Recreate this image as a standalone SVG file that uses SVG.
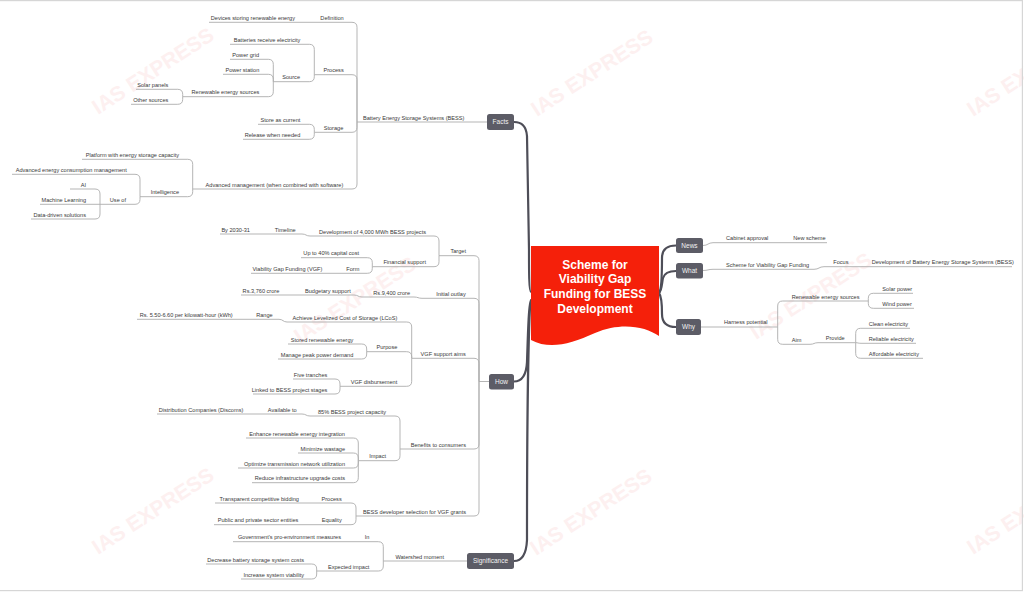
<svg xmlns="http://www.w3.org/2000/svg" width="1024" height="592" viewBox="0 0 1024 592">
<style>
.wm{font-family:"Liberation Sans",Arial,sans-serif;font-weight:bold;font-size:21px;fill:#fdf0f0}
.t{font-family:"Liberation Sans",Arial,sans-serif;font-size:5.6px;fill:#383838}
.l{text-anchor:end}
.ln{fill:none;stroke:#adadad;stroke-width:0.9}
.sp{fill:none;stroke:#4e4e58;stroke-width:2.2;stroke-linecap:round}
.mn rect{fill:#5c5c66}
.mn text{font-family:"Liberation Sans",Arial,sans-serif;font-size:6.5px;fill:#f2f2f2;text-anchor:middle}
.ct{font-family:"Liberation Sans",Arial,sans-serif;font-weight:bold;font-size:12px;fill:#ffffff;text-anchor:middle}
</style>
<rect x="0" y="0" width="1024" height="592" fill="#ffffff"/>
<g id="watermarks">
<text class="wm" transform="translate(98,115) rotate(-33)">IAS EXPRESS</text>
<text class="wm" transform="translate(537,117) rotate(-33)">IAS EXPRESS</text>
<text class="wm" transform="translate(973,117) rotate(-33)">IAS EXPRESS</text>
<text class="wm" transform="translate(300,344) rotate(-33)">IAS EXPRESS</text>
<text class="wm" transform="translate(756,340) rotate(-33)">IAS EXPRESS</text>
<text class="wm" transform="translate(98,555) rotate(-33)">IAS EXPRESS</text>
<text class="wm" transform="translate(536,556) rotate(-33)">IAS EXPRESS</text>
<text class="wm" transform="translate(973,555) rotate(-33)">IAS EXPRESS</text>
</g>
<rect x="-1" y="0.6" width="1023.4" height="590" fill="none" stroke="#d6d6d6" stroke-width="1.2"/>
<g id="connectors">
<path class="sp" d="M531,292 C529,292 529,270 529,250 L527,136 Q526,122 514,122"/>
<path class="sp" d="M531,300 C529,300 528,330 527,362 Q526,381.5 514,381.5"/>
<path class="sp" d="M531,300 C529,300 527,400 527,540 Q526,561 514,561"/>
<path class="sp" stroke-width="1.8" d="M659,293 C662,290 662,270 662,258 Q662,245.5 676,245.5"/>
<path class="sp" stroke-width="1.8" d="M659,293 C662,290 662,282 663,278 Q665,271 676,271"/>
<path class="sp" stroke-width="1.8" d="M659,293 C662,297 662,305 662,314 Q662,327 676,327"/>
<path class="ln" d="M487,122 H357"/>
<path class="ln" d="M357,122 V27.3 Q357,22.3 352,22.3 H300"/>
<path class="ln" d="M357,122 V79.7 Q357,74.7 352,74.7 H314.3"/>
<path class="ln" d="M357,122 V127.3 Q357,132.3 352,132.3 H314.3"/>
<path class="ln" d="M357,122 V184 Q357,189 352,189 H192.7"/>
<path class="ln" d="M300,22.3 H209"/>
<path class="ln" d="M314.3,74.7 V49.3 Q314.3,44.3 309.3,44.3 H230"/>
<path class="ln" d="M314.3,74.7 V76.7 Q314.3,81.7 309.3,81.7 H273.3"/>
<path class="ln" d="M273.3,81.7 V64.3 Q273.3,59.3 268.3,59.3 H230"/>
<path class="ln" d="M273.3,81.7 V79.3 Q273.3,74.3 268.3,74.3 H223"/>
<path class="ln" d="M273.3,81.7 V91.7 Q273.3,96.7 268.3,96.7 H182.7"/>
<path class="ln" d="M182.7,96.7 V94.3 Q182.7,89.3 177.7,89.3 H136"/>
<path class="ln" d="M182.7,96.7 V99.3 Q182.7,104.3 177.7,104.3 H131"/>
<path class="ln" d="M314.3,132.3 V129.3 Q314.3,124.3 309.3,124.3 H258"/>
<path class="ln" d="M314.3,132.3 V134.3 Q314.3,139.3 309.3,139.3 H243"/>
<path class="ln" d="M192.7,189 V164.3 Q192.7,159.3 187.7,159.3 H82"/>
<path class="ln" d="M192.7,189 V191.7 Q192.7,196.7 187.7,196.7 H140"/>
<path class="ln" d="M140,196.7 V179.3 Q140,174.3 135,174.3 H12"/>
<path class="ln" d="M140,196.7 V199.3 Q140,204.3 135,204.3 H100"/>
<path class="ln" d="M100,204.3 V194 Q100,189 95,189 H70"/>
<path class="ln" d="M100,204.3 H40"/>
<path class="ln" d="M100,204.3 V214 Q100,219 95,219 H31"/>
<path class="ln" d="M489,381.5 H479"/>
<path class="ln" d="M479,381.5 V260.7 Q479,255.7 474,255.7 H439"/>
<path class="ln" d="M479,381.5 V303.3 Q479,298.3 474,298.3 H422"/>
<path class="ln" d="M479,381.5 V363.3 Q479,358.3 474,358.3 H411.7"/>
<path class="ln" d="M479,381.5 V444 Q479,449 474,449 H400"/>
<path class="ln" d="M479,381.5 V511 Q479,516 474,516 H356"/>
<path class="ln" d="M439,255.7 V241 Q439,236 434,236 H310"/>
<path class="ln" d="M439,255.7 V261.7 Q439,266.7 434,266.7 H372.3"/>
<path class="ln" d="M310,236 C306,236 306,234 302,234 H262"/>
<path class="ln" d="M262,234 H220"/>
<path class="ln" d="M372.3,266.7 V262.7 Q372.3,257.7 367.3,257.7 H301"/>
<path class="ln" d="M372.3,266.7 V268.3 Q372.3,273.3 367.3,273.3 H334"/>
<path class="ln" d="M334,273.3 H251"/>
<path class="ln" d="M422,298.3 C418,298.3 418,297 414,297 H362"/>
<path class="ln" d="M362,297 C358,297 358,295 354,295 H292"/>
<path class="ln" d="M292,295 H241"/>
<path class="ln" d="M411.7,358.3 V327 Q411.7,322 406.7,322 H287"/>
<path class="ln" d="M411.7,358.3 V356.7 Q411.7,351.7 406.7,351.7 H366.7"/>
<path class="ln" d="M411.7,358.3 V381.3 Q411.7,386.3 406.7,386.3 H340"/>
<path class="ln" d="M287,322 C283,322 283,319.3 279,319.3 H245"/>
<path class="ln" d="M245,319.3 H137"/>
<path class="ln" d="M366.7,351.7 V349 Q366.7,344 361.7,344 H288"/>
<path class="ln" d="M366.7,351.7 V354 Q366.7,359 361.7,359 H278"/>
<path class="ln" d="M340,386.3 V384 Q340,379 335,379 H293"/>
<path class="ln" d="M340,386.3 V389 Q340,394 335,394 H253"/>
<path class="ln" d="M400,449 V421 Q400,416 395,416 H310"/>
<path class="ln" d="M400,449 V455.7 Q400,460.7 395,460.7 H358.3"/>
<path class="ln" d="M310,416 C306,416 306,414 302,414 H255"/>
<path class="ln" d="M255,414 H157"/>
<path class="ln" d="M358.3,460.7 V443 Q358.3,438 353.3,438 H246"/>
<path class="ln" d="M358.3,460.7 V458 Q358.3,453 353.3,453 H298"/>
<path class="ln" d="M358.3,460.7 V463 Q358.3,468 353.3,468 H238"/>
<path class="ln" d="M358.3,460.7 V477.7 Q358.3,482.7 353.3,482.7 H252"/>
<path class="ln" d="M356,516 V508 Q356,503 351,503 H311"/>
<path class="ln" d="M356,516 V519.7 Q356,524.7 351,524.7 H311"/>
<path class="ln" d="M311,503 H215"/>
<path class="ln" d="M311,524.7 H214"/>
<path class="ln" d="M467,561 H383.3"/>
<path class="ln" d="M383.3,561 V546.7 Q383.3,541.7 378.3,541.7 H355"/>
<path class="ln" d="M383.3,561 V566 Q383.3,571 378.3,571 H316.7"/>
<path class="ln" d="M355,541.7 H233"/>
<path class="ln" d="M316.7,571 V569 Q316.7,564 311.7,564 H206"/>
<path class="ln" d="M316.7,571 V574 Q316.7,579 311.7,579 H241"/>
<path class="ln" d="M703,245.5 C708,245.5 708,242.7 713,242.7 H780"/>
<path class="ln" d="M780,242.7 H827"/>
<path class="ln" d="M703,270.5 C708,270.5 708,269.3 713,269.3 H814"/>
<path class="ln" d="M814,269.3 C819,269.3 819,266.7 824,266.7 H855"/>
<path class="ln" d="M855,266.7 H1012"/>
<path class="ln" d="M701,327 H777.7"/>
<path class="ln" d="M777.7,327 V306 Q777.7,301 782.7,301 H868.3"/>
<path class="ln" d="M777.7,327 V339.3 Q777.7,344.3 782.7,344.3 H810"/>
<path class="ln" d="M868.3,301 V298.3 Q868.3,293.3 873.3,293.3 H913"/>
<path class="ln" d="M868.3,301 V303.3 Q868.3,308.3 873.3,308.3 H914"/>
<path class="ln" d="M810,344.3 C814,344.3 814,342.7 818,342.7 H855.7"/>
<path class="ln" d="M855.7,342.7 V333.3 Q855.7,328.3 860.7,328.3 H910"/>
<path class="ln" d="M855.7,342.7 C858,342.7 858,343.3 861,343.3 H916"/>
<path class="ln" d="M855.7,342.7 V353.3 Q855.7,358.3 860.7,358.3 H923"/>
</g>
<g id="center">
<path d="M531,246 H659 V336 C645,326 620,322 595,333 C570,344 550,350 531,340 Z" fill="#f5200a"/>
<text class="ct" x="595" y="268.5">Scheme for</text>
<text class="ct" x="595" y="283">Viability Gap</text>
<text class="ct" x="595" y="298">Funding for BESS</text>
<text class="ct" x="595" y="312.5">Development</text>
</g>
<g id="facts" class="mn"><rect x="487" y="114" width="27" height="16" rx="2.5"/><text x="500.5" y="124.3">Facts</text></g>
<g id="how" class="mn"><rect x="489" y="374" width="25" height="15.5" rx="2.5"/><text x="501.5" y="384">How</text></g>
<g id="significance" class="mn"><rect x="467" y="553" width="47" height="16" rx="2.5"/><text x="490.5" y="563.3">Significance</text></g>
<g id="news" class="mn"><rect x="676" y="238" width="27" height="15" rx="2.5"/><text x="689.5" y="247.8">News</text></g>
<g id="what" class="mn"><rect x="676" y="263" width="27" height="15.5" rx="2.5"/><text x="689.5" y="273">What</text></g>
<g id="why" class="mn"><rect x="676" y="319" width="25" height="16" rx="2.5"/><text x="688.5" y="329.3">Why</text></g>
<g id="facts-tree">
<g id="n-bess"><text class="t l" x="464.3" y="119.5">Battery Energy Storage Systems (BESS)</text></g>
<g id="n-definition"><text class="t l" x="343.7" y="20">Definition</text></g>
<g id="n-devices"><text class="t l" x="295" y="20">Devices storing renewable energy</text></g>
<g id="n-process"><text class="t l" x="343.7" y="72.4">Process</text></g>
<g id="n-batteries"><text class="t l" x="300.3" y="42">Batteries receive electricity</text></g>
<g id="n-source"><text class="t l" x="300" y="79.4">Source</text></g>
<g id="n-powergrid"><text class="t l" x="259" y="57">Power grid</text></g>
<g id="n-powerstation"><text class="t l" x="259.3" y="72">Power station</text></g>
<g id="n-res"><text class="t l" x="259.3" y="94.4">Renewable energy sources</text></g>
<g id="n-solar"><text class="t l" x="168.3" y="87">Solar panels</text></g>
<g id="n-other"><text class="t l" x="168.3" y="102">Other sources</text></g>
<g id="n-storage"><text class="t l" x="343.3" y="130">Storage</text></g>
<g id="n-store"><text class="t l" x="300.3" y="122">Store as current</text></g>
<g id="n-release"><text class="t l" x="300.3" y="137">Release when needed</text></g>
<g id="n-advmgmt"><text class="t l" x="343.3" y="186.7">Advanced management (when combined with software)</text></g>
<g id="n-platform"><text class="t l" x="179" y="157">Platform with energy storage capacity</text></g>
<g id="n-intelligence"><text class="t l" x="179" y="194.4">Intelligence</text></g>
<g id="n-advcons"><text class="t l" x="126.7" y="172">Advanced energy consumption management</text></g>
<g id="n-useof"><text class="t l" x="126" y="202">Use of</text></g>
<g id="n-ai"><text class="t l" x="86" y="186.7">AI</text></g>
<g id="n-ml"><text class="t l" x="86" y="202">Machine Learning</text></g>
<g id="n-data"><text class="t l" x="86" y="216.7">Data-driven solutions</text></g>
</g>
<g id="how-tree">
<g id="n-target"><text class="t l" x="466" y="253.4">Target</text></g>
<g id="n-development"><text class="t l" x="426" y="233.7">Development of 4,000 MWh BESS projects</text></g>
<g id="n-timeline"><text class="t l" x="295.7" y="231.7">Timeline</text></g>
<g id="n-by2030"><text class="t l" x="250" y="231.7">By 2030-31</text></g>
<g id="n-financial"><text class="t l" x="426" y="264.4">Financial support</text></g>
<g id="n-upto40"><text class="t l" x="359" y="255.4">Up to 40% capital cost</text></g>
<g id="n-form"><text class="t l" x="359.3" y="271">Form</text></g>
<g id="n-vgf"><text class="t l" x="322.3" y="271">Viability Gap Funding (VGF)</text></g>
<g id="n-initial"><text class="t l" x="465.7" y="296">Initial outlay</text></g>
<g id="n-rs9400"><text class="t l" x="410" y="294.7">Rs.9,400 crore</text></g>
<g id="n-budgetary"><text class="t l" x="350.7" y="292.7">Budgetary support</text></g>
<g id="n-rs3760"><text class="t l" x="279.3" y="292.7">Rs.3,760 crore</text></g>
<g id="n-vgfaims"><text class="t l" x="465.7" y="356">VGF support aims</text></g>
<g id="n-lcos"><text class="t l" x="397.3" y="319.7">Achieve Levelized Cost of Storage (LCoS)</text></g>
<g id="n-range"><text class="t l" x="272.7" y="317">Range</text></g>
<g id="n-rs550"><text class="t l" x="232.7" y="317">Rs. 5.50-6.60 per kilowatt-hour (kWh)</text></g>
<g id="n-purpose"><text class="t l" x="397.3" y="349.4">Purpose</text></g>
<g id="n-stored"><text class="t l" x="353.3" y="341.7">Stored renewable energy</text></g>
<g id="n-manage"><text class="t l" x="353.3" y="356.7">Manage peak power demand</text></g>
<g id="n-disb"><text class="t l" x="397.3" y="384">VGF disbursement</text></g>
<g id="n-five"><text class="t l" x="327.3" y="376.7">Five tranches</text></g>
<g id="n-linked"><text class="t l" x="327.3" y="391.7">Linked to BESS project stages</text></g>
<g id="n-benefits"><text class="t l" x="466" y="446.7">Benefits to consumers</text></g>
<g id="n-85"><text class="t l" x="386" y="413.7">85% BESS project capacity</text></g>
<g id="n-available"><text class="t l" x="296.7" y="411.7">Available to</text></g>
<g id="n-discoms"><text class="t l" x="243.3" y="411.7">Distribution Companies (Discoms)</text></g>
<g id="n-impact"><text class="t l" x="386" y="458.4">Impact</text></g>
<g id="n-enhance"><text class="t l" x="345" y="435.7">Enhance renewable energy integration</text></g>
<g id="n-minimize"><text class="t l" x="345" y="450.7">Minimize wastage</text></g>
<g id="n-optimize"><text class="t l" x="345" y="465.7">Optimize transmission network utilization</text></g>
<g id="n-reduce"><text class="t l" x="345" y="480.4">Reduce infrastructure upgrade costs</text></g>
<g id="n-bessdev"><text class="t l" x="466" y="513.7">BESS developer selection for VGF grants</text></g>
<g id="n-hprocess"><text class="t l" x="341.7" y="500.7">Process</text></g>
<g id="n-transparent"><text class="t l" x="299" y="500.7">Transparent competitive bidding</text></g>
<g id="n-equality"><text class="t l" x="341.7" y="522.4">Equality</text></g>
<g id="n-public"><text class="t l" x="298.3" y="522.4">Public and private sector entities</text></g>
</g>
<g id="significance-tree">
<g id="n-watershed"><text class="t l" x="444" y="559">Watershed moment</text></g>
<g id="n-in"><text class="t l" x="369.3" y="539.4">In</text></g>
<g id="n-govt"><text class="t l" x="341" y="539.4">Government's pro-environment measures</text></g>
<g id="n-expected"><text class="t l" x="369.3" y="568.7">Expected impact</text></g>
<g id="n-decrease"><text class="t l" x="304" y="561.7">Decrease battery storage system costs</text></g>
<g id="n-increase"><text class="t l" x="304" y="576.7">Increase system viability</text></g>
</g>
<g id="right-tree">
<g id="n-cabinet"><text class="t" x="726" y="240.4">Cabinet approval</text></g>
<g id="n-newscheme"><text class="t" x="793.3" y="240.4">New scheme</text></g>
<g id="n-scheme"><text class="t" x="726" y="267">Scheme for Viability Gap Funding</text></g>
<g id="n-focus"><text class="t" x="833.3" y="264.4">Focus</text></g>
<g id="n-devbess"><text class="t" x="871.7" y="264.4">Development of Battery Energy Storage Systems (BESS)</text></g>
<g id="n-harness"><text class="t" x="724" y="324.4">Harness potential</text></g>
<g id="n-res2"><text class="t" x="791.7" y="298.7">Renewable energy sources</text></g>
<g id="n-solarp"><text class="t" x="882.3" y="291">Solar power</text></g>
<g id="n-windp"><text class="t" x="882.3" y="306">Wind power</text></g>
<g id="n-aim"><text class="t" x="791.7" y="342">Aim</text></g>
<g id="n-provide"><text class="t" x="825.7" y="340.4">Provide</text></g>
<g id="n-clean"><text class="t" x="868.7" y="326">Clean electricity</text></g>
<g id="n-reliable"><text class="t" x="868.7" y="341">Reliable electricity</text></g>
<g id="n-affordable"><text class="t" x="868.7" y="356">Affordable electricity</text></g>
</g>
</svg>
